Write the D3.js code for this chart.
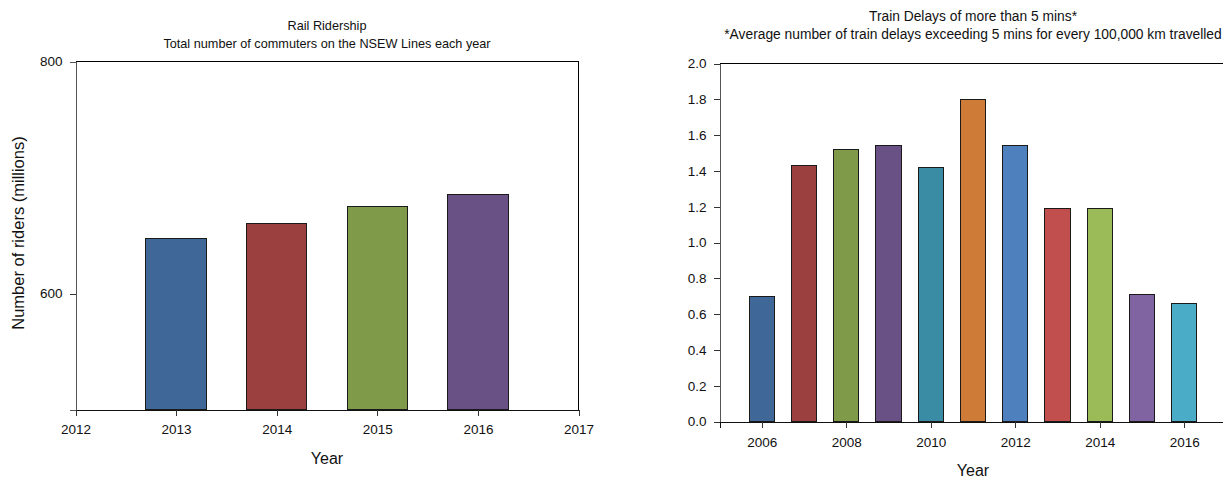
<!DOCTYPE html>
<html><head><meta charset="utf-8">
<script src="https://cdn.jsdelivr.net/npm/d3@7"></script>
<style>
body{margin:0;background:#fff;}
svg{font-family:"Liberation Sans",Arial,sans-serif;}
</style></head>
<body>
<svg id="c" width="1223" height="479"></svg>
<script>
// Left chart data
const riderYears = [2013, 2014, 2015, 2016];
const riderValues = [647, 660, 675, 685];
const riderColors = ["#3f6899", "#9c403f", "#7f9a48", "#695185"];
const riderYTicks = [600, 800];
const riderXTicks = [2012, 2013, 2014, 2015, 2016, 2017];

// Right chart data
const delayYears = [2006, 2007, 2008, 2009, 2010, 2011, 2012, 2013, 2014, 2015, 2016];
const delayValues = [0.70, 1.43, 1.52, 1.54, 1.42, 1.80, 1.54, 1.19, 1.19, 0.71, 0.66];
const delayColors = ["#3f6899", "#9c403f", "#7f9a48", "#695185", "#3a8ba4", "#ce7b38", "#4e80bd", "#c04f4d", "#9bbb59", "#8064a2", "#4aacc6"];
const delayYTicks = [0.0, 0.2, 0.4, 0.6, 0.8, 1.0, 1.2, 1.4, 1.6, 1.8, 2.0];
const delayXTicks = [2006, 2008, 2010, 2012, 2014, 2016];

const svg = d3.select("#c");
const TICKFS = 13.5;

function drawChart(o) {
  const g = svg.append("g");
  const x = d3.scaleLinear().domain(o.xDomain).range([o.left, o.right]);
  const y = d3.scaleLinear().domain(o.yDomain).range([o.bottom, o.top]);
  const bw = x(o.xDomain[0] + 0.6) - x(o.xDomain[0]);

  // frame top/right
  g.append("line").attr("x1", o.left).attr("x2", o.right).attr("y1", o.top).attr("y2", o.top)
    .attr("stroke", "#000").attr("stroke-width", 1).attr("shape-rendering", "crispEdges");
  g.append("line").attr("x1", o.right).attr("x2", o.right).attr("y1", o.top).attr("y2", o.bottom)
    .attr("stroke", "#000").attr("stroke-width", 1).attr("shape-rendering", "crispEdges");

  // bars
  g.selectAll("rect.bar").data(o.years).join("rect")
    .attr("class", "bar")
    .attr("x", d => x(d) - bw / 2)
    .attr("width", bw)
    .attr("y", (d, i) => y(o.values[i]))
    .attr("height", (d, i) => y(o.yDomain[0]) - y(o.values[i]))
    .attr("fill", (d, i) => o.colors[i])
    .attr("stroke", "#1a1a1a").attr("stroke-width", 1).attr("shape-rendering", "crispEdges");

  // y axis
  const ya = d3.axisLeft(y).tickValues(o.yTicks).tickSize(6).tickPadding(7).tickFormat(o.yFmt);
  const yg = g.append("g").attr("transform", `translate(${o.left},0)`).call(ya);
  yg.select(".domain").attr("stroke", "#555").attr("shape-rendering", "crispEdges");
  yg.selectAll(".tick line").attr("stroke", "#333").attr("shape-rendering", "crispEdges");
  if (o.hideTickAt != null) yg.selectAll(".tick").filter(d => d === o.hideTickAt).select("line").remove();
  yg.selectAll("text").attr("font-size", TICKFS).attr("fill", "#111").attr("font-family", "Liberation Sans, Arial, sans-serif");

  // x axis
  const xa = d3.axisBottom(x).tickValues(o.xTicks).tickSize(6).tickPadding(o.xPad).tickFormat(d3.format("d"));
  const xg = g.append("g").attr("transform", `translate(0,${o.bottom})`).call(xa);
  xg.select(".domain").attr("stroke", "#111").attr("shape-rendering", "crispEdges");
  xg.selectAll(".tick line").attr("stroke", "#333").attr("shape-rendering", "crispEdges");
  xg.selectAll("text").attr("font-size", TICKFS).attr("fill", "#111").attr("font-family", "Liberation Sans, Arial, sans-serif");

  // titles
  o.titles.forEach((t, i) => {
    g.append("text").attr("x", o.titleX).attr("y", o.titleY + i * 18)
      .attr("text-anchor", "middle").attr("font-size", o.titleFs).attr("fill", "#111").text(t);
  });
  g.append("text").attr("x", o.xTitleX).attr("y", o.xTitleY).attr("text-anchor", "middle")
    .attr("font-size", 16).attr("fill", "#111").text("Year");
  if (o.yTitle) {
    g.append("text").attr("transform", `translate(${o.yTitleX},${o.yTitleY}) rotate(-90)`)
      .attr("text-anchor", "middle").attr("font-size", 16.5).attr("fill", "#111").text(o.yTitle);
  }
}

drawChart({
  years: riderYears, values: riderValues, colors: riderColors,
  xDomain: [2012, 2017], yDomain: [500, 800],
  left: 75.5, right: 578.5, top: 61.5, bottom: 409.5,
  yTicks: riderYTicks, xTicks: riderXTicks, yFmt: d3.format("d"), hideTickAt: 800, xPad: 9,
  titles: ["Rail Ridership", "Total number of commuters on the NSEW Lines each year"],
  titleFs: 12.7, titleX: 327, titleY: 30,
  xTitleX: 327, xTitleY: 464,
  yTitle: "Number of riders (millions)", yTitleX: 24, yTitleY: 233
});

drawChart({
  years: delayYears, values: delayValues, colors: delayColors,
  xDomain: [2005, 2017], yDomain: [0, 2.0],
  left: 719.5, right: 1226.5, top: 63.5, bottom: 421.5,
  yTicks: delayYTicks, xTicks: delayXTicks, yFmt: d3.format(".1f"), hideTickAt: null, xPad: 10,
  titles: ["Train Delays of more than 5 mins*", "*Average number of train delays exceeding 5 mins for every 100,000 km travelled"],
  titleFs: 13.8, titleX: 973, titleY: 21,
  xTitleX: 973, xTitleY: 476,
  yTitle: null
});
</script>
</body></html>
